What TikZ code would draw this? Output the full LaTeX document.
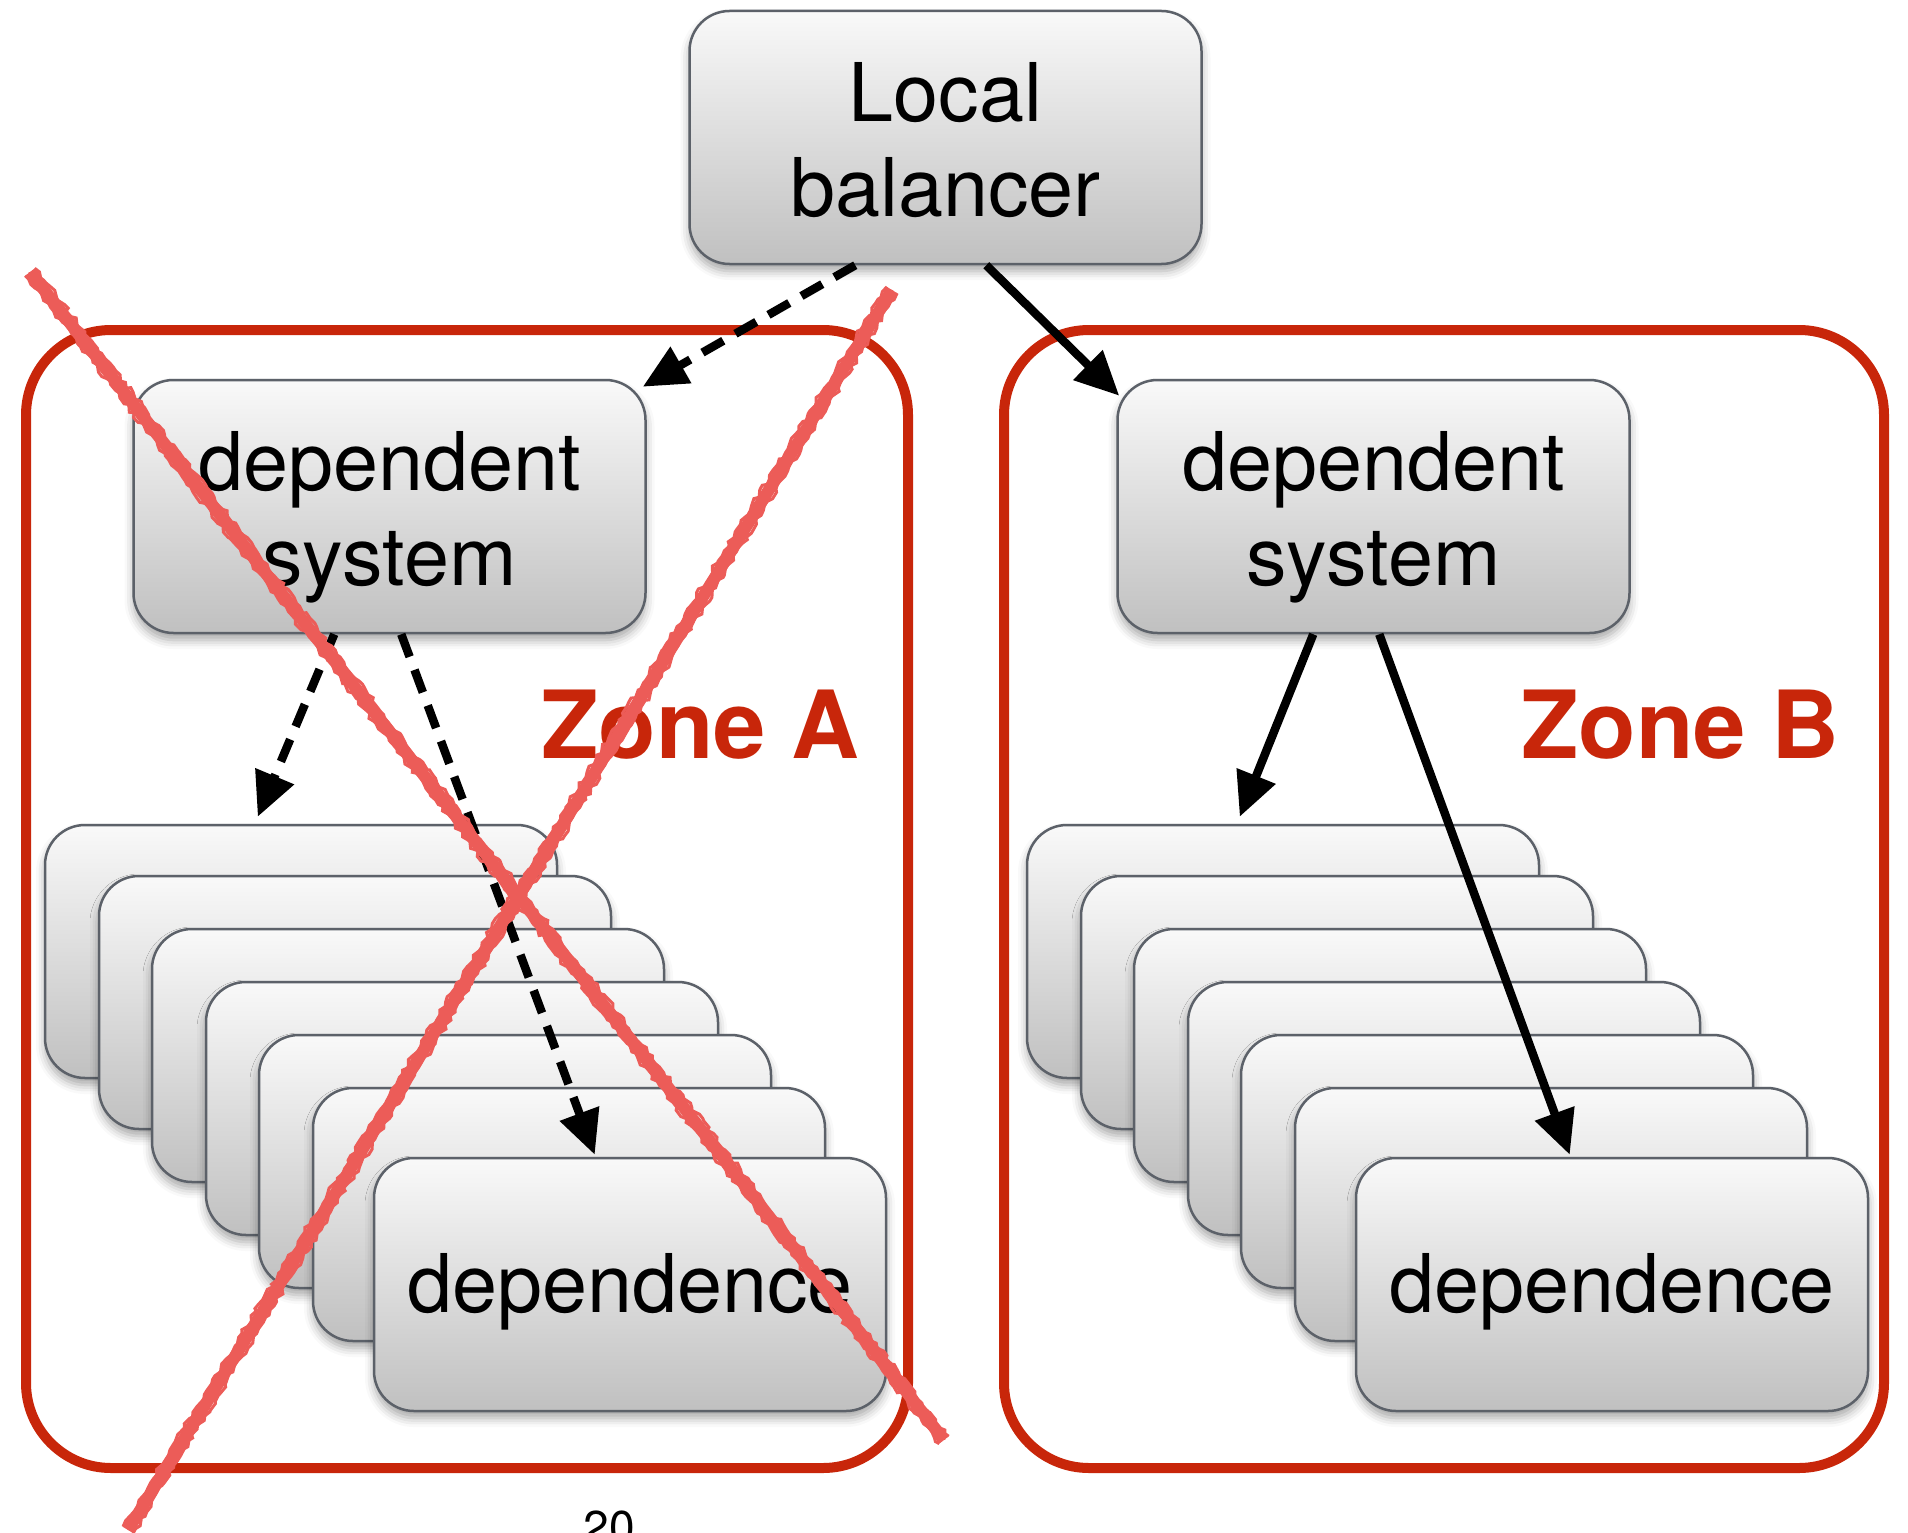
\documentclass[tikz,border=0pt]{standalone}
\usepackage{fontspec}
\setmainfont{TeX Gyre Heros}
\usetikzlibrary{arrows.meta,shadows.blur,calc,decorations.pathmorphing}

\definecolor{zonered}{RGB}{200,38,10}
\definecolor{crossred}{RGB}{236,92,88}
\definecolor{boxedge}{RGB}{92,97,105}
\definecolor{boxtop}{RGB}{249,249,249}
\definecolor{boxbot}{RGB}{192,192,192}

\tikzset{
  sysbox/.style={draw=boxedge, line width=2.5pt, rounded corners=40pt,
    top color=boxtop, bottom color=boxbot,
    minimum width=512pt, minimum height=253pt, inner sep=0pt, align=center,
    font=\fontsize{81}{95}\selectfont, text height=157pt, text depth=0pt,
    blur shadow={shadow xshift=0pt, shadow yshift=-7pt, shadow blur radius=9pt, shadow opacity=35}},
  depbox/.style={sysbox, text height=62pt, text depth=7pt},
  zone/.style={draw=zonered, line width=10pt, rounded corners=85pt, inner sep=0pt},
  zonelabel/.style={text=zonered, font=\fontsize{94}{100}\selectfont\bfseries,
    anchor=base west, inner sep=0pt},
  flow/.style={line width=8.5pt, -{Triangle[length=44pt,width=40pt]}},
  flowdash/.style={flow, dash pattern=on 24pt off 14pt},
  cross/.style={crossred, line width=12pt},
  crossedge/.style={crossred, line width=3pt, decorate,
    decoration={random steps, segment length=5pt, amplitude=2.2pt}},
}

\begin{document}
\begin{tikzpicture}[x=1pt, y=-1pt]
\useasboundingbox (0,0) rectangle (1908,1533);
\clip (0,0) rectangle (1908,1533);
\pgfmathsetseed{7}

% availability zones
\node[zone, minimum width=882pt, minimum height=1138pt] (zoneA) at (467,899) {};
\node[zone, minimum width=880pt, minimum height=1138pt] (zoneB) at (1444,899) {};

% top-level balancer and the two dependent systems
\node[sysbox] (lb) at (945.5,137.5) {Local\\balancer};
\node[sysbox] (sysA) at (389.5,506.5) {dependent\\system};
\node[sysbox] (sysB) at (1373.5,506.5) {dependent\\system};

% stacks of dependences
\foreach \i/\x/\y in {1/301/951.5, 2/355/1002.5, 3/408/1055.5, 4/462/1108.5, 5/515/1161.5, 6/569/1214.5}
  \node[depbox] (dA\i) at (\x,\y) {};
\node[depbox] (dA7) at (630,1284.5) {dependence};

\foreach \i/\x/\y in {1/1283/951.5, 2/1337/1002.5, 3/1390/1055.5, 4/1444/1108.5, 5/1497/1161.5, 6/1551/1214.5}
  \node[depbox] (dB\i) at (\x,\y) {};
\node[depbox] (dB7) at (1612,1284.5) {dependence};

% requests
\draw[flowdash] ([xshift=167pt]lb.south west) -- ([xshift=-4pt,yshift=-8pt]sysA.north east);
\draw[flow] ([xshift=298pt]lb.south west) -- ([xshift=3pt,yshift=-17pt]sysB.north west);

\draw[flowdash] ([xshift=202pt]sysA.south west) -- ([xshift=214pt,yshift=7pt]dA1.north west);
\draw[flowdash] ([xshift=269pt]sysA.south west) -- ([xshift=222pt,yshift=2pt]dA7.north west);

\draw[flow] ([xshift=197pt]sysB.south west) -- ([xshift=214pt,yshift=7pt]dB1.north west);
\draw[flow] ([xshift=263pt]sysB.south west) -- ([xshift=215pt,yshift=2pt]dB7.north west);

% zone labels
\node[zonelabel] (labA) at (541,758) {Zone A};
\node[zonelabel] (labB) at (1521,758) {Zone B};

% page number
\node[font=\fontsize{46}{50}\selectfont, anchor=base, inner sep=0pt] (pagenum) at (609,1543) {20};

% hand-drawn cross over zone A
\coordinate (x1a) at (30,272);
\coordinate (x1b) at (944,1440);
\coordinate (x2a) at (892,290);
\coordinate (x2b) at (128,1530);
\draw[cross] (x1a) -- (x1b);
\draw[cross] (x2a) -- (x2b);
\foreach \o in {-6pt,0pt,6pt}{
  \draw[crossedge] ($(x1a)!\o!90:(x1b)$) -- ($(x1b)!\o!-90:(x1a)$);
  \draw[crossedge] ($(x2a)!\o!90:(x2b)$) -- ($(x2b)!\o!-90:(x2a)$);
}
\end{tikzpicture}
\end{document}
